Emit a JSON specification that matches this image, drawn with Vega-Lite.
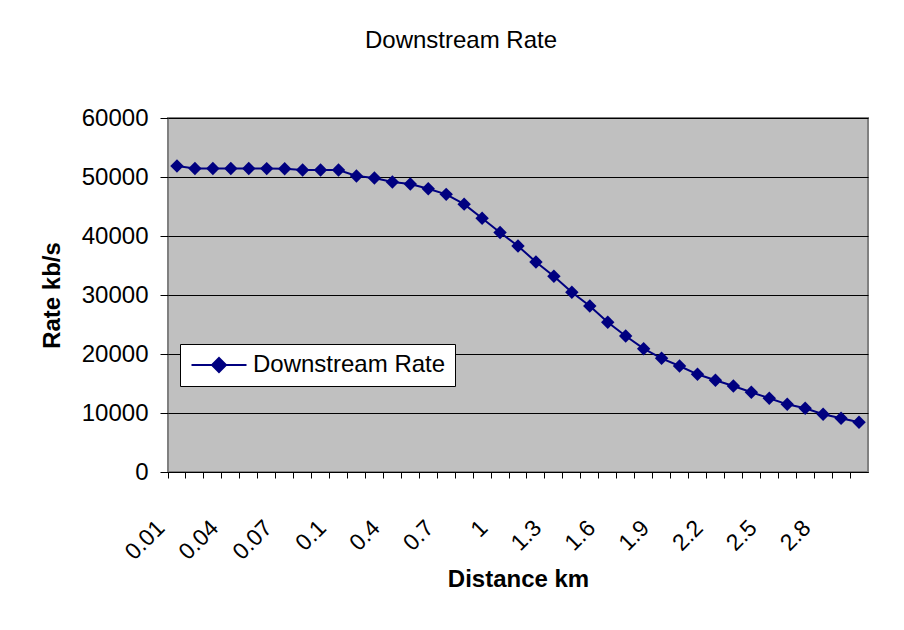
{
  "$schema": "https://vega.github.io/schema/vega-lite/v6.json",
  "autosize": "none",
  "width": 700,
  "height": 354,
  "padding": {"left": 168, "top": 118, "right": 36, "bottom": 158},
  "background": "white",
  "config": {
    "font": "Liberation Sans",
    "view": {"fill": "#C0C0C0", "stroke": "#808080", "strokeWidth": 2}
  },
  "title": {
    "text": "Downstream Rate",
    "fontSize": 24,
    "fontWeight": "normal",
    "color": "black",
    "anchor": "middle",
    "dx": -57,
    "offset": 53
  },
  "data": {
    "values": [
      {"d": "0.01", "rate": 51860, "series": "Downstream Rate"},
      {"d": "0.02", "rate": 51450, "series": "Downstream Rate"},
      {"d": "0.03", "rate": 51450, "series": "Downstream Rate"},
      {"d": "0.04", "rate": 51450, "series": "Downstream Rate"},
      {"d": "0.05", "rate": 51450, "series": "Downstream Rate"},
      {"d": "0.06", "rate": 51420, "series": "Downstream Rate"},
      {"d": "0.07", "rate": 51410, "series": "Downstream Rate"},
      {"d": "0.08", "rate": 51190, "series": "Downstream Rate"},
      {"d": "0.09", "rate": 51190, "series": "Downstream Rate"},
      {"d": "0.1", "rate": 51190, "series": "Downstream Rate"},
      {"d": "0.2", "rate": 50170, "series": "Downstream Rate"},
      {"d": "0.3", "rate": 49830, "series": "Downstream Rate"},
      {"d": "0.4", "rate": 49150, "series": "Downstream Rate"},
      {"d": "0.5", "rate": 48800, "series": "Downstream Rate"},
      {"d": "0.6", "rate": 48000, "series": "Downstream Rate"},
      {"d": "0.7", "rate": 47060, "series": "Downstream Rate"},
      {"d": "0.8", "rate": 45400, "series": "Downstream Rate"},
      {"d": "0.9", "rate": 43000, "series": "Downstream Rate"},
      {"d": "1", "rate": 40600, "series": "Downstream Rate"},
      {"d": "1.1", "rate": 38300, "series": "Downstream Rate"},
      {"d": "1.2", "rate": 35600, "series": "Downstream Rate"},
      {"d": "1.3", "rate": 33170, "series": "Downstream Rate"},
      {"d": "1.4", "rate": 30460, "series": "Downstream Rate"},
      {"d": "1.5", "rate": 28140, "series": "Downstream Rate"},
      {"d": "1.6", "rate": 25370, "series": "Downstream Rate"},
      {"d": "1.7", "rate": 23050, "series": "Downstream Rate"},
      {"d": "1.8", "rate": 20900, "series": "Downstream Rate"},
      {"d": "1.9", "rate": 19270, "series": "Downstream Rate"},
      {"d": "2", "rate": 17970, "series": "Downstream Rate"},
      {"d": "2.1", "rate": 16560, "series": "Downstream Rate"},
      {"d": "2.2", "rate": 15540, "series": "Downstream Rate"},
      {"d": "2.3", "rate": 14580, "series": "Downstream Rate"},
      {"d": "2.4", "rate": 13510, "series": "Downstream Rate"},
      {"d": "2.5", "rate": 12490, "series": "Downstream Rate"},
      {"d": "2.6", "rate": 11470, "series": "Downstream Rate"},
      {"d": "2.7", "rate": 10800, "series": "Downstream Rate"},
      {"d": "2.8", "rate": 9780, "series": "Downstream Rate"},
      {"d": "2.9", "rate": 9100, "series": "Downstream Rate"},
      {"d": "3", "rate": 8420, "series": "Downstream Rate"}
    ]
  },
  "encoding": {
    "x": {
      "field": "d",
      "type": "ordinal",
      "sort": null,
      "bandPosition": 0.5,
      "scale": {"type": "band", "paddingInner": 0, "paddingOuter": 0},
      "axis": {
        "title": "Distance km",
        "titleFontSize": 24,
        "titleFontWeight": "bold",
        "titleColor": "black",
        "titlePadding": 3,
        "bandPosition": 0,
        "domainColor": "black",
        "domainWidth": 1,
        "tickColor": "black",
        "tickSize": 6,
        "tickWidth": 1,
        "labelAngle": -45,
        "labelAlign": "right",
        "labelBaseline": "middle",
        "labelPadding": 46,
        "labelOffset": -16,
        "labelFontSize": 23,
        "labelColor": "black",
        "labelOverlap": false,
        "labelExpr": "indexof(['0.01','0.04','0.07','0.1','0.4','0.7','1','1.3','1.6','1.9','2.2','2.5','2.8'], datum.value) >= 0 ? datum.value : ''",
        "grid": false
      }
    },
    "y": {
      "field": "rate",
      "type": "quantitative",
      "scale": {"domain": [0, 60000], "nice": false},
      "axis": {
        "title": "Rate kb/s",
        "titleFontSize": 24,
        "titleFontWeight": "bold",
        "titleColor": "black",
        "titlePadding": 17,
        "values": [0, 10000, 20000, 30000, 40000, 50000, 60000],
        "format": "d",
        "domain": false,
        "tickColor": "black",
        "tickSize": 8,
        "tickWidth": 1,
        "labelPadding": 12,
        "labelFontSize": 24,
        "labelColor": "black",
        "grid": true,
        "gridColor": "black",
        "gridWidth": 1,
        "gridOpacity": 1
      }
    },
    "color": {
      "field": "series",
      "type": "nominal",
      "scale": {"range": ["#000080"]},
      "legend": {
        "title": null,
        "orient": "none",
        "legendX": 12,
        "legendY": 226,
        "direction": "vertical",
        "fillColor": "white",
        "strokeColor": "black",
        "padding": 9,
        "symbolType": "M-3.93,0H3.93M0,-1L1,0L0,1L-1,0Z",
        "symbolSize": 196,
        "symbolOffset": 18,
        "symbolStrokeWidth": 2,
        "labelFontSize": 24,
        "labelColor": "black",
        "labelOffset": 22,
        "labelLimit": 400
      }
    }
  },
  "layer": [
    {"mark": {"type": "line", "strokeWidth": 2}},
    {"mark": {"type": "point", "shape": "diamond", "filled": true, "size": 180, "opacity": 1}}
  ]
}
